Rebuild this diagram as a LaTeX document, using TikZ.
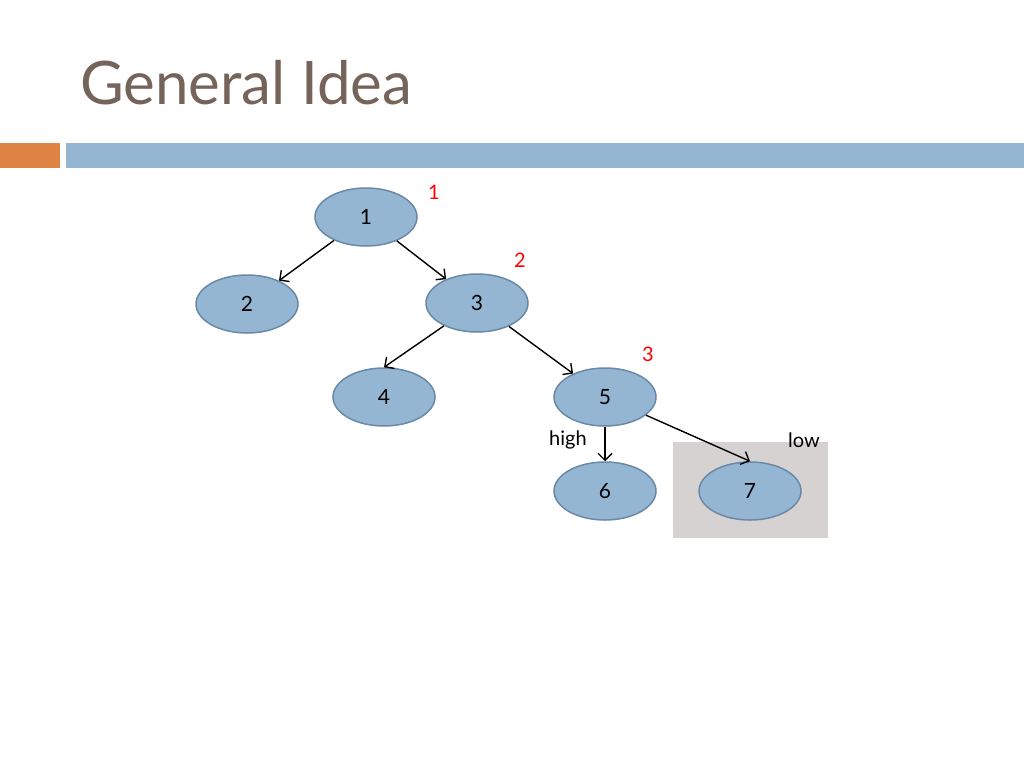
\documentclass[tikz,border=0pt]{standalone}
\usepackage{fontspec}
\setmainfont{Lato}
\usetikzlibrary{shapes.geometric,arrows.meta}
\definecolor{titlebrown}{HTML}{76645B}
\definecolor{barorange}{HTML}{E08446}
\definecolor{barblue}{HTML}{94B6D2}
\definecolor{nodefill}{HTML}{94B6D2}
\definecolor{nodeline}{HTML}{6A89A6}
\definecolor{boxgray}{HTML}{D5D2D1}
\begin{document}
\begin{tikzpicture}[
    x=1pt, y=-1pt,
    vert/.style={ellipse,draw=nodeline,line width=1.5pt,fill=nodefill,minimum width=102pt,minimum height=58pt,inner sep=0pt,font=\fontsize{21}{25}\selectfont},
    ord/.style={text=red,font=\fontsize{20}{24}\selectfont},
    lab/.style={font=\fontsize{20}{24}\selectfont},
    edge/.style={-{Straight Barb[length=7pt,width=14pt]},line width=1.4pt}
    ]
    \useasboundingbox (0,0) rectangle (1024,768);
    % title and bars
    \node[anchor=base west,text=titlebrown,font=\fontsize{60}{66}\selectfont,inner sep=0pt] (title) at (80,104) {General Idea};
    \fill[barorange] (0,143) rectangle (60,168);
    \fill[barblue] (66,143) rectangle (1024,168);
    % pruned part
    \fill[boxgray] (673,442) rectangle (828,538);
    % tree
    \node[vert] (n1) at (366,217) {1};
    \node[vert] (n2) at (247,304) {2};
    \node[vert] (n3) at (477,303) {3};
    \node[vert] (n4) at (384,397) {4};
    \node[vert] (n5) at (605,397) {5};
    \node[vert] (n6) at (605,491) {6};
    \node[vert] (n7) at (750,491) {7};
    \draw[edge] (n1) -- (n2);
    \draw[edge] (n1) -- (n3);
    \draw[edge] (n3) -- (n4.north);
    \draw[edge] (n3) -- (n5);
    \draw[edge] (n5) -- (n6);
    \draw[edge] (n5) -- (n7.north);
    % order of visits
    \node[ord] (o1) at (434,192) {1};
    \node[ord] (o2) at (520,260) {2};
    \node[ord] (o3) at (648,354) {3};
    \node[lab] (high) at (568,440) {high};
    \node[lab] (low) at (804,440) {low};
\end{tikzpicture}
\end{document}
